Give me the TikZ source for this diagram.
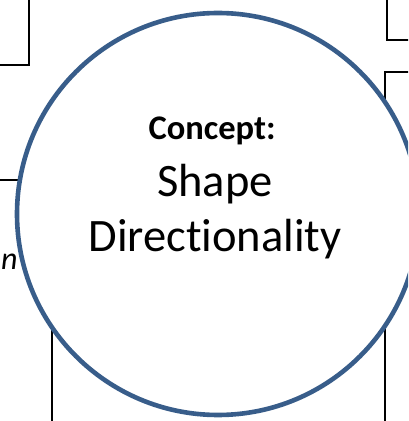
\documentclass[tikz,border=0pt]{standalone}
\usepackage{fontspec}
\setmainfont[Ligatures={NoCommon,NoRare,NoDiscretionary}]{Carlito}
\definecolor{ringblue}{RGB}{56,93,138}
\begin{document}
\begin{tikzpicture}[x=1pt,y=1pt,
  boxline/.style={draw=black,line width=2pt},
  ring/.style={circle,draw=ringblue,fill=white,line width=4.6pt,minimum size=402pt,inner sep=0pt},
  lbl/.style={anchor=base,inner sep=0pt}]
\useasboundingbox (0,0) rectangle (408,421);
\clip (0,0) rectangle (408,421);
% boxes behind the circle
\draw[boxline] (-20,440) rectangle (29,356);
\draw[boxline] (387,440) rectangle (430,381);
\draw[boxline] (385,349) rectangle (430,-20);
\draw[boxline,line width=1.6pt] (-20,241) rectangle (52,-20);
\node[anchor=base west,inner sep=0pt,font=\fontsize{32}{36}\selectfont\itshape] (nfrag) at (1,151.5) {n};
% concept circle
\node[ring] (concept) at (218,207) {};
\node[lbl,font=\fontsize{34.5}{40}\selectfont\bfseries] (t1) at (212,281) {Concept:};
\node[lbl,font=\fontsize{46.5}{52}\selectfont] (t2) at (215,224) {Shape};
\node[lbl,font=\fontsize{46.5}{52}\selectfont] (t3) at (215,169) {Directionality};
\end{tikzpicture}
\end{document}
